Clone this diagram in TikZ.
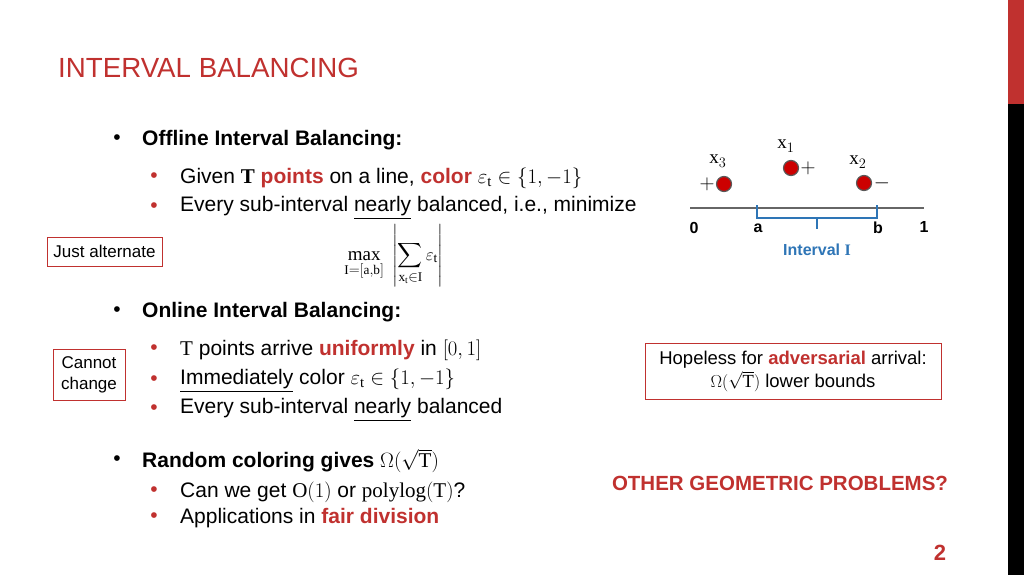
\documentclass[tikz,border=0pt]{standalone}
\usepackage{amsmath}
\usepackage{fontspec}
\setmainfont{Liberation Sans}
\setmathrm{Liberation Serif}
\newcommand\myul[1]{\underline{#1}}
\definecolor{myred}{HTML}{C0312F}
\definecolor{myblue}{HTML}{2E75B6}
\begin{document}
\begin{tikzpicture}[x=1pt,y=-1pt,
  txt/.style={anchor=west,font=\fontsize{21}{24}\selectfont,inner sep=0},
  bul/.style={anchor=center,font=\fontsize{21}{24}\selectfont,inner sep=0},
  rbul/.style={bul,text=myred},
  box/.style={draw=myred,line width=1pt,align=center,font=\fontsize{17}{21}\selectfont,inner sep=3pt},
  dot/.style={circle,fill=red!80!black,draw=gray!70!black,line width=1.2pt,minimum size=15pt,inner sep=0},
  lab/.style={font=\fontsize{16}{18}\selectfont\bfseries\rmfamily,inner sep=0}]
\useasboundingbox (0,0) rectangle (1024,575);
\fill[myred] (1008,0) rectangle (1024,104);
\fill[black] (1008,104) rectangle (1024,575);
\node[anchor=west,text=myred,font=\fontsize{27.7}{30}\selectfont,inner sep=0] (title) at (58,68) {INTERVAL BALANCING};
% bullets
\node[bul] (b1) at (117,140) {•}; \node[txt] (t1) at (142,140) {\textbf{Offline Interval Balancing:}};
\node[rbul] (b2) at (154,178) {•}; \node[txt] (t2) at (180,178) {Given $\mathbf{T}$ \textcolor{myred}{\textbf{points}} on a line, \textcolor{myred}{\textbf{color}} $\varepsilon_{\mathrm t}\in\{1,-1\}$};
\node[rbul] (b3) at (154,208) {•}; \node[txt] (t3) at (180,208) {Every sub-interval \myul{nearly} balanced, i.e., minimize};
\node[inner sep=0,font=\fontsize{19}{22}\selectfont] (f) at (394,256) {$\displaystyle\max_{\mathrm{I}=[\mathrm{a,b}]}\ \left|\sum_{\mathrm{x_t}\in\mathrm{I}}\varepsilon_{\mathrm t}\right|$};
\node[bul] (b4) at (117,312) {•}; \node[txt] (t4) at (142,312) {\textbf{Online Interval Balancing:}};
\node[rbul] (b5) at (154,350) {•}; \node[txt] (t5) at (180,350) {$\mathrm T$ points arrive \textcolor{myred}{\textbf{uniformly}} in $[0,1]$};
\node[rbul] (b6) at (154,381) {•}; \node[txt] (t6) at (180,381) {\myul{Immediately} color $\varepsilon_{\mathrm t}\in\{1,-1\}$};
\node[rbul] (b7) at (154,410) {•}; \node[txt] (t7) at (180,410) {Every sub-interval \myul{nearly} balanced};
\node[bul] (b8) at (117,461) {•}; \node[txt] (t8) at (142,461) {\textbf{Random coloring gives} $\Omega(\sqrt{\mathrm T})$};
\node[rbul] (b9) at (154,492) {•}; \node[txt] (t9) at (180,492) {Can we get $\mathrm O(1)$ or $\mathrm{polylog}(\mathrm T)$?};
\node[rbul] (b10) at (154,518) {•}; \node[txt] (t10) at (180,518) {Applications in \textcolor{myred}{\textbf{fair division}}};
% boxes
\node[box,minimum width=115pt,minimum height=29pt] (ja) at (104.5,251.5) {Just alternate};
\node[box,minimum width=72pt,minimum height=51pt] (cc) at (89,375) {Cannot\\change};
\node[box,font=\fontsize{18.5}{23}\selectfont,minimum width=296pt,minimum height=56pt] (hp) at (793,371) {Hopeless for \textcolor{myred}{\textbf{adversarial}} arrival:\\$\Omega(\sqrt{\mathrm T})$ lower bounds};
\node[text=myred,font=\fontsize{20.5}{22}\selectfont\bfseries,inner sep=0] (og) at (780,483) {OTHER GEOMETRIC PROBLEMS?};
\node[text=myred,font=\fontsize{22}{24}\selectfont\bfseries,inner sep=0] (pg) at (940,553) {2};
% figure
\coordinate (l0) at (690,208); \coordinate (l1) at (924,208);
\draw[gray!80!black,line width=1.5pt] (l0) -- (l1);
\draw[myblue,line width=2pt] (757,205) -- (757,218) -- (877,218) -- (877,205);
\draw[myblue,line width=2pt] (817,218) -- (817,229);
\node[lab] (n0) at (694,228) {0};
\node[lab] (na) at (758,228) {a};
\node[lab] (nb) at (878,228) {b};
\node[lab] (n1) at (924,227) {1};
\node[text=myblue,font=\fontsize{16}{18}\selectfont\bfseries,inner sep=0] (iv) at (817,250) {Interval $\mathbf{I}$};
\node[dot] (d3) at (724,184) {}; \node[dot] (d1) at (791,168) {}; \node[dot] (d2) at (864,183) {};
\node[font=\fontsize{19}{21}\selectfont,inner sep=0] (x3) at (718,161) {$\mathrm x_3$};
\node[font=\fontsize{19}{21}\selectfont,inner sep=0] (x1) at (786,146) {$\mathrm x_1$};
\node[font=\fontsize{19}{21}\selectfont,inner sep=0] (x2) at (858,162) {$\mathrm x_2$};
\node[font=\fontsize{20}{22}\selectfont,inner sep=0] (p3) at (707,184) {$+$};
\node[font=\fontsize{20}{22}\selectfont,inner sep=0] (p1) at (808,168) {$+$};
\node[font=\fontsize{20}{22}\selectfont,inner sep=0] (m2) at (882,183) {$-$};
\end{tikzpicture}
\end{document}
